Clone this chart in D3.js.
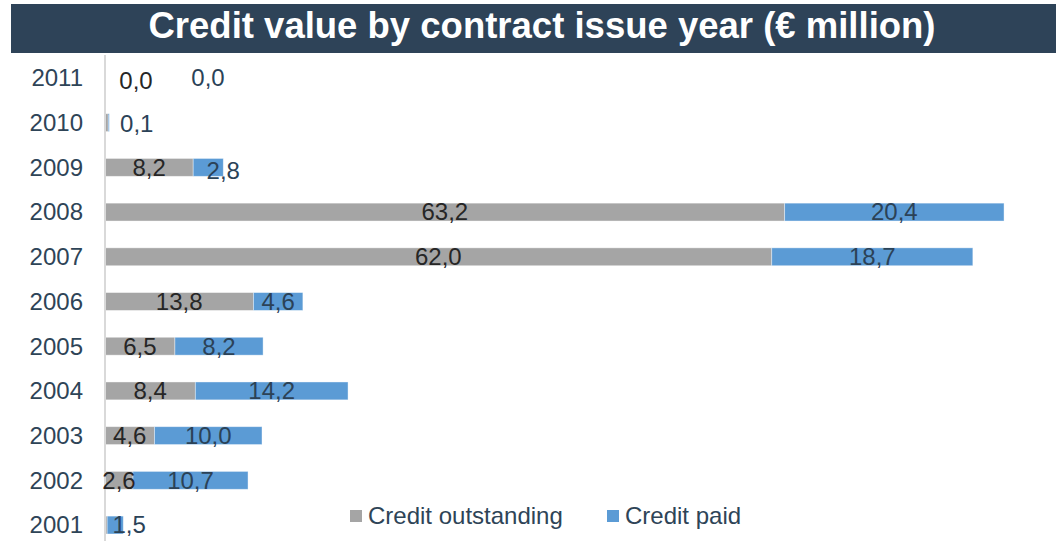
<!DOCTYPE html>
<html>
<head>
<meta charset="utf-8">
<script src="https://cdn.jsdelivr.net/npm/d3@7"></script>
<style>
  body { margin: 0; background: #fff; }
  svg { display: block; font-family: "Liberation Sans", Arial, sans-serif; }
</style>
</head>
<body>
<svg id="chart"></svg>
<script>
// Data
const years = ["2011", "2010", "2009", "2008", "2007", "2006", "2005", "2004", "2003", "2002", "2001"];
const creditOutstanding = [0.0, 0.3, 8.2, 63.2, 62.0, 13.8, 6.5, 8.4, 4.6, 2.6, 0.2];
const creditPaid = [0.0, 0.1, 2.8, 20.4, 18.7, 4.6, 8.2, 14.2, 10.0, 10.7, 1.5];
const seriesNames = ["Credit outstanding", "Credit paid"];

// labels that were removed in the original, and hand-moved labels [dx, dy]
const hiddenLabels = { "Credit outstanding": ["2010", "2001"] };
const labelNudge = {
  "Credit outstanding": { "2011": [31, 3] },
  "Credit paid": { "2011": [103, 0], "2010": [28, 1], "2009": [15, 3], "2001": [14, 0] }
};

const width = 1056;
const height = 541;
const colors = { "Credit outstanding": "#a5a5a5", "Credit paid": "#5b9bd5" };
const labelColors = { "Credit outstanding": "#262626", "Credit paid": "#2b4257" };
const navy = "#2e4457";
const fontSize = 24;

const svg = d3.select("#chart").attr("width", width).attr("height", height);

// Title banner
svg.append("rect")
   .attr("x", 11).attr("y", 4)
   .attr("width", width - 11).attr("height", 49)
   .attr("fill", "#2e4358");

svg.append("text")
   .attr("x", 542).attr("y", 38)
   .attr("text-anchor", "middle")
   .attr("fill", "#fff")
   .attr("font-size", 36.5)
   .attr("font-weight", "bold")
   .text("Credit value by contract issue year (€ million)");

// Scales
const table = years.map((y, i) => ({
  year: y,
  "Credit outstanding": creditOutstanding[i],
  "Credit paid": creditPaid[i]
}));

const stacked = d3.stack().keys(seriesNames)(table);

const x = d3.scaleLinear()
            .domain([0, 85])
            .range([105, 105 + 85 * 10.754]);

const y = d3.scaleBand()
            .domain(years)
            .range([55.6, 547.4])
            .paddingInner(0.6)
            .paddingOuter(0.3);

// Bars
const layers = svg.append("g")
   .selectAll("g")
   .data(stacked)
   .join("g")
   .attr("fill", d => colors[d.key]);

layers.selectAll("rect")
   .data(d => d.filter(p => p[1] - p[0] > 0))
   .join("rect")
   .attr("x", d => x(d[0]))
   .attr("y", d => y(d.data.year))
   .attr("width", d => x(d[1]) - x(d[0]))
   .attr("height", y.bandwidth())
   .attr("stroke", "#ffffff")
   .attr("stroke-opacity", 0.5)
   .attr("stroke-width", 0.8);

// Axis (vertical line with year labels)
const axis = svg.append("g")
   .attr("transform", `translate(${x(0)},0)`)
   .call(d3.axisLeft(y).tickSize(0).tickPadding(22));

axis.select(".domain")
   .attr("stroke", "#d9d9d9")
   .attr("stroke-width", 2)
   .attr("d", `M0,55V${height}`);

axis.selectAll("text")
   .attr("font-family", "Liberation Sans, Arial, sans-serif")
   .attr("font-size", fontSize)
   .attr("fill", navy)
   .attr("dy", "0.35em");

// Data labels
stacked.forEach(layer => {
  const key = layer.key;
  const hidden = hiddenLabels[key] || [];
  const nudge = labelNudge[key] || {};
  svg.append("g")
     .selectAll("text")
     .data(layer.filter(p => !hidden.includes(p.data.year)))
     .join("text")
     .attr("x", d => (x(d[0]) + x(d[1])) / 2 + (nudge[d.data.year] ? nudge[d.data.year][0] : 0))
     .attr("y", d => y(d.data.year) + y.bandwidth() / 2 + (nudge[d.data.year] ? nudge[d.data.year][1] : 0))
     .attr("dy", "0.35em")
     .attr("text-anchor", "middle")
     .attr("font-size", fontSize)
     .attr("fill", labelColors[key])
     .text(d => d3.format(".1f")(d[1] - d[0]).replace(".", ","));
});

// Legend
const legendX = [350, 607];
const legend = svg.append("g")
   .selectAll("g")
   .data(seriesNames)
   .join("g")
   .attr("transform", (d, i) => `translate(${legendX[i]},510)`);

legend.append("rect")
   .attr("width", 12).attr("height", 12)
   .attr("fill", d => colors[d]);

legend.append("text")
   .attr("x", 18).attr("y", 14)
   .attr("font-size", fontSize)
   .attr("fill", navy)
   .text(d => d);
</script>
</body>
</html>
